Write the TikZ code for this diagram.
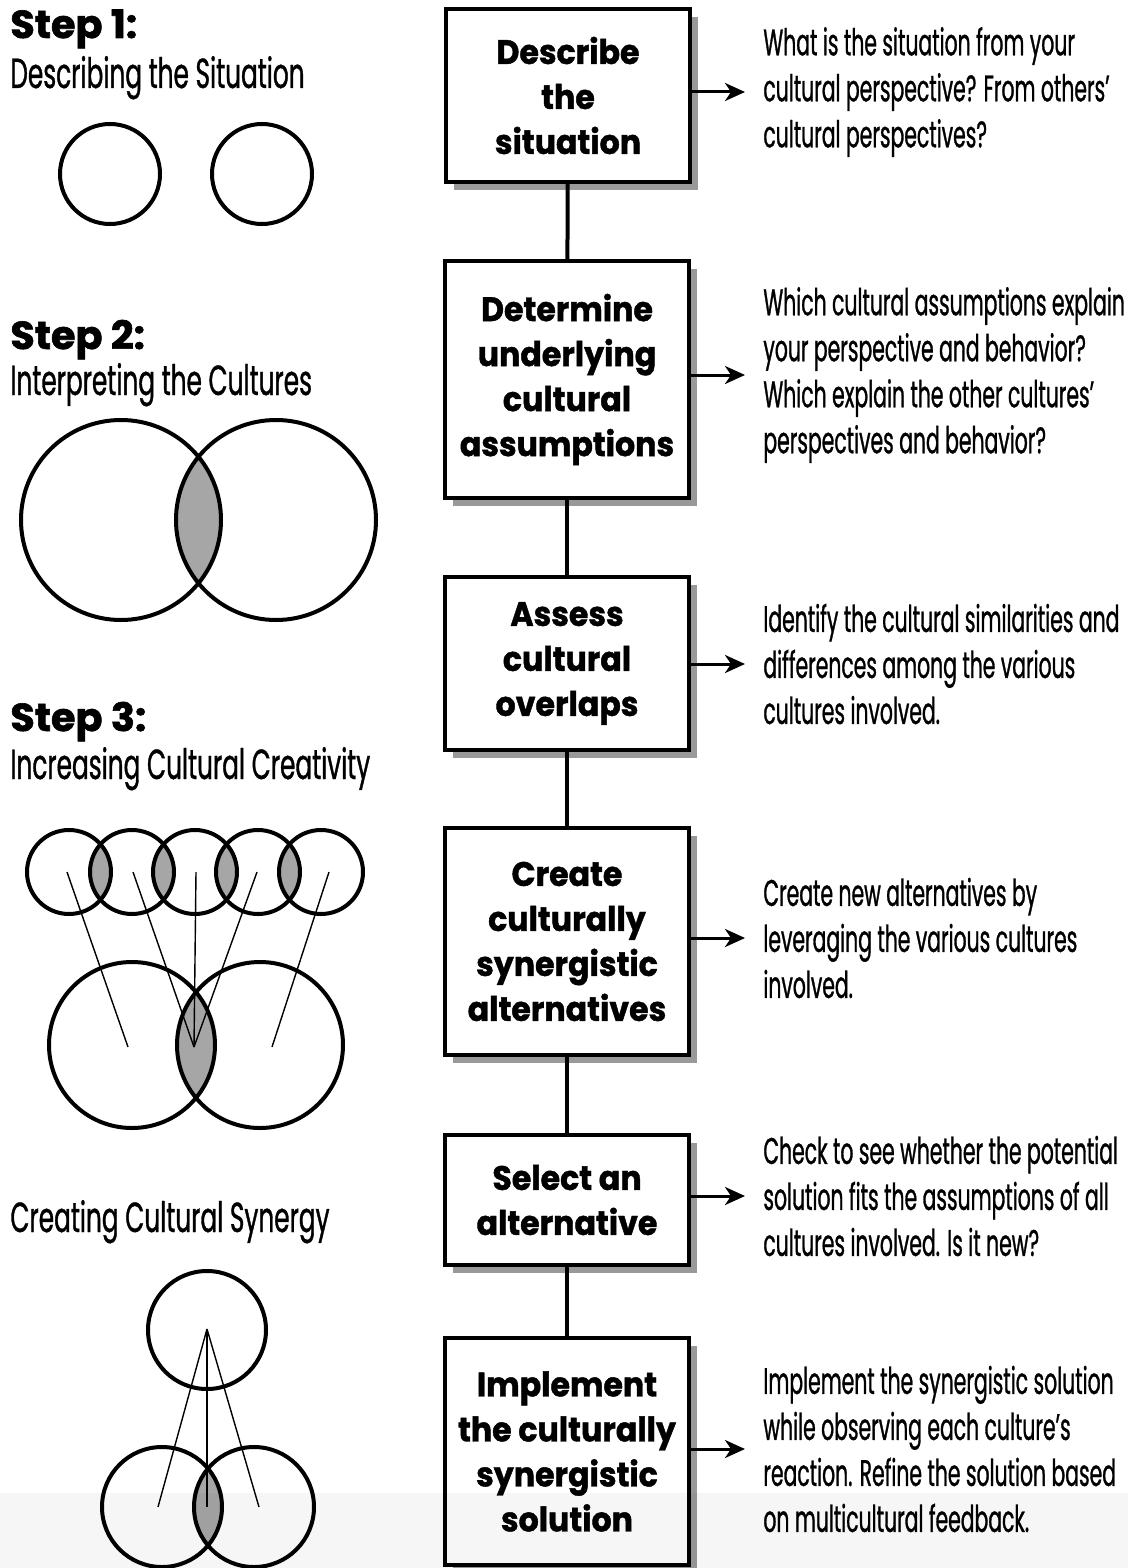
\documentclass[tikz,border=0pt]{standalone}
\usepackage{fontspec}
\setmainfont{Poppins}
\newfontfamily\boxfont[FakeStretch=0.93, BoldFeatures={FakeBold=1.2}]{Poppins}
\newfontfamily\headfont[FakeStretch=1.02, BoldFeatures={FakeBold=1.6}]{Poppins}
\newfontfamily\narrowfont[FakeStretch=0.55, FakeBold=0.8]{Poppins}
\newfontfamily\captionfont[FakeStretch=0.59, FakeBold=0.8]{Poppins}
\usetikzlibrary{arrows.meta,shadows}

\begin{document}
\begin{tikzpicture}[x=0.5pt,y=-0.5pt,
		stepbox/.style={draw=black, line width=2pt, fill=white, align=center, inner sep=0pt,
			minimum width=122pt, font=\boxfont\bfseries\fontsize{17}{22.5}\selectfont,
			drop shadow={shadow xshift=4pt, shadow yshift=-4pt, fill=black!40, opacity=1}},
		note/.style={anchor=west, align=left, inner sep=0pt,
			font=\narrowfont\fontsize{18.5}{23}\selectfont},
		heading/.style={anchor=base west, inner sep=0pt, font=\headfont\bfseries\fontsize{19.5}{20}\selectfont},
		caption/.style={anchor=base west, inner sep=0pt, font=\captionfont\fontsize{21}{20}\selectfont},
		link/.style={line width=2pt},
		pointer/.style={line width=1.5pt, -{Stealth[length=10pt, width=9pt, inset=3pt]}, shorten >=9pt},
		ring/.style={line width=2pt},
		spoke/.style={line width=0.7pt},
		lens/.style={fill=black!35}]
	\fill[white] (0,0) rectangle (1128,1568);
	\useasboundingbox (0,0) rectangle (1128,1568);

	\node[heading] (step1) at (10,38) {Step 1:};
	\node[caption] (cap1) at (10,88) {Describing the Situation};
	\node[heading] (step2) at (10,349) {Step 2:};
	\node[caption] (cap2) at (10,395) {Interpreting the Cultures};
	\node[heading] (step3) at (10,731) {Step 3:};
	\node[caption] (cap3) at (10,779) {Increasing Cultural Creativity};
	\node[caption] (cap4) at (10,1232) {Creating Cultural Synergy};

	\draw[ring] (110,174) circle (50) (262,174) circle (50);

	\begin{scope}
		\clip (121,520) circle (100);
		\fill[lens] (276,520) circle (100);
	\end{scope}
	\draw[ring] (121,520) circle (100) (276,520) circle (100);

	\foreach \i in {1,...,4} {
		\begin{scope}
			\clip (6+63*\i,872) circle (42);
			\fill[lens] (69+63*\i,872) circle (42);
		\end{scope}
	}
	\begin{scope}
		\clip (132,1045) circle (83);
		\fill[lens] (260,1045) circle (83);
	\end{scope}
	\foreach \i in {0,...,4}
		\draw[ring] (69+63*\i,872) circle (42);
	\draw[ring] (132,1045) circle (83) (260,1045) circle (83);
	\foreach \a/\b in {67/128, 133/194, 196/194, 257/194, 329/272}
		\draw[spoke] (\a,872) -- (\b,1047);

	\begin{scope}
		\clip (162,1507) circle (60);
		\fill[lens] (254,1507) circle (60);
	\end{scope}
	\draw[ring] (207,1330) circle (59) (162,1507) circle (60) (254,1507) circle (60);
	\foreach \b in {158, 207, 259}
		\draw[spoke] (207,1329) -- (\b,1507);

	\node[stepbox, minimum height=86.5pt] (describe) at (568,95.5) {Describe\\the\\situation};
	\node[stepbox, minimum height=118.5pt] (determine) at (567,379.5) {Determine\\underlying\\cultural\\assumptions};
	\node[stepbox, minimum height=86.5pt] (assess) at (567,663.5) {Assess\\cultural\\overlaps};
	\node[stepbox, minimum height=113.5pt] (create) at (567,941.5) {Create\\culturally\\synergistic\\alternatives};
	\node[stepbox, minimum height=65pt] (select) at (567,1200) {Select an\\alternative};
	\node[stepbox, minimum height=113.5pt] (implement) at (567,1451.5) {Implement\\the culturally\\synergistic\\solution};

	\node[note] (q1) at (763,92) {What is the situation from your\\cultural perspective? From others’\\cultural perspectives?};
	\node[note] (q2) at (763,375) {Which cultural assumptions explain\\your perspective and behavior?\\Which explain the other cultures’\\perspectives and behavior?};
	\node[note] (q3) at (763,664) {Identify the cultural similarities and\\differences among the various\\cultures involved.};
	\node[note] (q4) at (763,938) {Create new alternatives by\\leveraging the various cultures\\involved.};
	\node[note] (q5) at (763,1196) {Check to see whether the potential\\solution fits the assumptions of all\\cultures involved. Is it new?};
	\node[note] (q6) at (763,1449) {Implement the synergistic solution\\while observing each culture’s\\reaction. Refine the solution based\\on multicultural feedback.};

	\draw[link] (describe) -- (determine);
	\draw[link] (determine) -- (assess);
	\draw[link] (assess) -- (create);
	\draw[link] (create) -- (select);
	\draw[link] (select) -- (implement);

	\foreach \b/\q in {describe/q1, determine/q2, assess/q3, create/q4, select/q5, implement/q6}
		\draw[pointer] (\b.east |- \q.west) -- (\q.west);

	\fill[black, fill opacity=0.035] (0,1493) rectangle (1128,1568);
\end{tikzpicture}
\end{document}
